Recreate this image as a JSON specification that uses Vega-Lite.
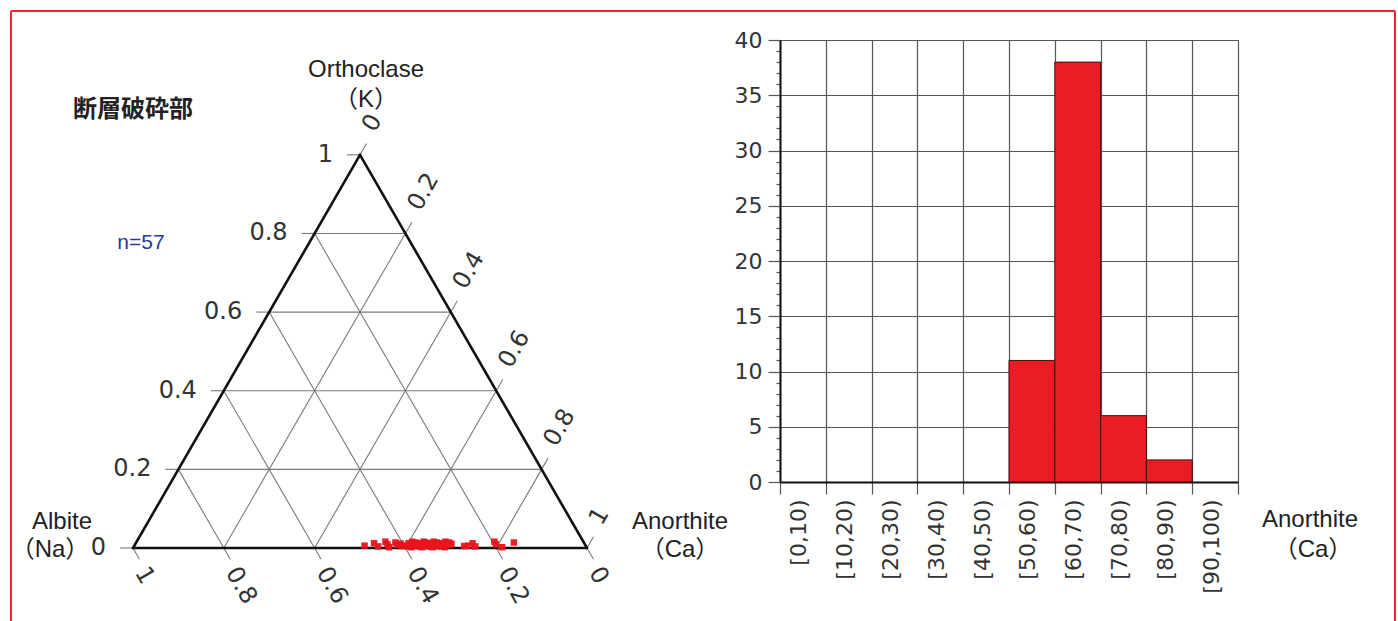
{
  "$schema": "https://vega.github.io/schema/vega-lite/v6.json",
  "padding": {"left": 10, "top": 10, "right": 0, "bottom": 0},
  "background": "white",
  "config": {"view": {"stroke": null}, "font": "DejaVu Sans"},
  "datasets": {
    "frame": [
      {"x": -0.268722, "y": 1.182819, "x2": -0.268722, "y2": -0.160793},
      {"x": -0.268722, "y": 1.182819, "x2": 2.779736, "y2": 1.182819},
      {"x": 2.779736, "y": 1.182819, "x2": 2.779736, "y2": -0.160793}
    ],
    "grid": [
      {"x": 0.1, "y": 0.173205, "x2": 0.9, "y2": 0.173205},
      {"x": 0.2, "y": 0.34641, "x2": 0.8, "y2": 0.34641},
      {"x": 0.3, "y": 0.519615, "x2": 0.7, "y2": 0.519615},
      {"x": 0.4, "y": 0.69282, "x2": 0.6, "y2": 0.69282},
      {"x": 0.2, "y": 0, "x2": 0.6, "y2": 0.69282},
      {"x": 0.4, "y": 0, "x2": 0.7, "y2": 0.519615},
      {"x": 0.6, "y": 0, "x2": 0.8, "y2": 0.34641},
      {"x": 0.8, "y": 0, "x2": 0.9, "y2": 0.173205},
      {"x": 0.8, "y": 0, "x2": 0.4, "y2": 0.69282},
      {"x": 0.6, "y": 0, "x2": 0.3, "y2": 0.519615},
      {"x": 0.4, "y": 0, "x2": 0.2, "y2": 0.34641},
      {"x": 0.2, "y": 0, "x2": 0.1, "y2": 0.173205},
      {"x": -0.028634, "y": 0, "x2": 0, "y2": 0},
      {"x": 0.071366, "y": 0.173205, "x2": 0.1, "y2": 0.173205},
      {"x": 0.171366, "y": 0.34641, "x2": 0.2, "y2": 0.34641},
      {"x": 0.271366, "y": 0.519615, "x2": 0.3, "y2": 0.519615},
      {"x": 0.371366, "y": 0.69282, "x2": 0.4, "y2": 0.69282},
      {"x": 0.471366, "y": 0.866025, "x2": 0.5, "y2": 0.866025},
      {"x": 0.5, "y": 0.866025, "x2": 0.514317, "y2": 0.890822},
      {"x": 0.6, "y": 0.69282, "x2": 0.614317, "y2": 0.717617},
      {"x": 0.7, "y": 0.519615, "x2": 0.714317, "y2": 0.544412},
      {"x": 0.8, "y": 0.34641, "x2": 0.814317, "y2": 0.371207},
      {"x": 0.9, "y": 0.173205, "x2": 0.914317, "y2": 0.198002},
      {"x": 1, "y": 0, "x2": 1.014317, "y2": 0.024797},
      {"x": 0, "y": 0, "x2": 0.014317, "y2": -0.024797},
      {"x": 0.2, "y": 0, "x2": 0.214317, "y2": -0.024797},
      {"x": 0.4, "y": 0, "x2": 0.414317, "y2": -0.024797},
      {"x": 0.6, "y": 0, "x2": 0.614317, "y2": -0.024797},
      {"x": 0.8, "y": 0, "x2": 0.814317, "y2": -0.024797},
      {"x": 1, "y": 0, "x2": 1.014317, "y2": -0.024797}
    ],
    "edges": [
      {"x": 0, "y": 0, "x2": 1, "y2": 0},
      {"x": 0, "y": 0, "x2": 0.5, "y2": 0.866025},
      {"x": 1, "y": 0, "x2": 0.5, "y2": 0.866025}
    ],
    "points": [
      {"an": 0.507, "or": 0.006, "x": 0.510, "y": 0.0052},
      {"an": 0.525, "or": 0.012, "x": 0.531, "y": 0.0104},
      {"an": 0.538, "or": 0.004, "x": 0.540, "y": 0.0035},
      {"an": 0.548, "or": 0.016, "x": 0.556, "y": 0.0139},
      {"an": 0.556, "or": 0.009, "x": 0.5605, "y": 0.0078},
      {"an": 0.563, "or": 0.002, "x": 0.564, "y": 0.0017},
      {"an": 0.571, "or": 0.014, "x": 0.578, "y": 0.0121},
      {"an": 0.578, "or": 0.008, "x": 0.582, "y": 0.0069},
      {"an": 0.584, "or": 0.011, "x": 0.5895, "y": 0.0095},
      {"an": 0.591, "or": 0.005, "x": 0.5935, "y": 0.0043},
      {"an": 0.597, "or": 0.006, "x": 0.600, "y": 0.0052},
      {"an": 0.601, "or": 0.012, "x": 0.607, "y": 0.0104},
      {"an": 0.604, "or": 0.004, "x": 0.606, "y": 0.0035},
      {"an": 0.607, "or": 0.016, "x": 0.615, "y": 0.0139},
      {"an": 0.610, "or": 0.009, "x": 0.6145, "y": 0.0078},
      {"an": 0.612, "or": 0.002, "x": 0.613, "y": 0.0017},
      {"an": 0.615, "or": 0.014, "x": 0.622, "y": 0.0121},
      {"an": 0.618, "or": 0.008, "x": 0.622, "y": 0.0069},
      {"an": 0.620, "or": 0.011, "x": 0.6255, "y": 0.0095},
      {"an": 0.622, "or": 0.005, "x": 0.6245, "y": 0.0043},
      {"an": 0.625, "or": 0.006, "x": 0.628, "y": 0.0052},
      {"an": 0.627, "or": 0.012, "x": 0.633, "y": 0.0104},
      {"an": 0.630, "or": 0.004, "x": 0.632, "y": 0.0035},
      {"an": 0.632, "or": 0.016, "x": 0.640, "y": 0.0139},
      {"an": 0.634, "or": 0.009, "x": 0.6385, "y": 0.0078},
      {"an": 0.636, "or": 0.002, "x": 0.637, "y": 0.0017},
      {"an": 0.638, "or": 0.014, "x": 0.645, "y": 0.0121},
      {"an": 0.641, "or": 0.008, "x": 0.645, "y": 0.0069},
      {"an": 0.643, "or": 0.011, "x": 0.6485, "y": 0.0095},
      {"an": 0.645, "or": 0.005, "x": 0.6475, "y": 0.0043},
      {"an": 0.647, "or": 0.006, "x": 0.650, "y": 0.0052},
      {"an": 0.649, "or": 0.012, "x": 0.655, "y": 0.0104},
      {"an": 0.652, "or": 0.004, "x": 0.654, "y": 0.0035},
      {"an": 0.654, "or": 0.016, "x": 0.662, "y": 0.0139},
      {"an": 0.657, "or": 0.009, "x": 0.6615, "y": 0.0078},
      {"an": 0.659, "or": 0.002, "x": 0.660, "y": 0.0017},
      {"an": 0.662, "or": 0.014, "x": 0.669, "y": 0.0121},
      {"an": 0.664, "or": 0.008, "x": 0.668, "y": 0.0069},
      {"an": 0.667, "or": 0.011, "x": 0.6725, "y": 0.0095},
      {"an": 0.669, "or": 0.005, "x": 0.6715, "y": 0.0043},
      {"an": 0.672, "or": 0.006, "x": 0.675, "y": 0.0052},
      {"an": 0.675, "or": 0.012, "x": 0.681, "y": 0.0104},
      {"an": 0.677, "or": 0.004, "x": 0.679, "y": 0.0035},
      {"an": 0.680, "or": 0.016, "x": 0.688, "y": 0.0139},
      {"an": 0.683, "or": 0.009, "x": 0.6875, "y": 0.0078},
      {"an": 0.686, "or": 0.002, "x": 0.687, "y": 0.0017},
      {"an": 0.689, "or": 0.014, "x": 0.696, "y": 0.0121},
      {"an": 0.692, "or": 0.008, "x": 0.696, "y": 0.0069},
      {"an": 0.696, "or": 0.011, "x": 0.7015, "y": 0.0095},
      {"an": 0.727, "or": 0.005, "x": 0.7295, "y": 0.0043},
      {"an": 0.735, "or": 0.006, "x": 0.738, "y": 0.0052},
      {"an": 0.742, "or": 0.012, "x": 0.748, "y": 0.0104},
      {"an": 0.752, "or": 0.004, "x": 0.754, "y": 0.0035},
      {"an": 0.788, "or": 0.016, "x": 0.796, "y": 0.0139},
      {"an": 0.795, "or": 0.009, "x": 0.7995, "y": 0.0078},
      {"an": 0.812, "or": 0.002, "x": 0.813, "y": 0.0017},
      {"an": 0.832, "or": 0.014, "x": 0.839, "y": 0.0121}
    ],
    "leftLabels": [
      {"label": "0", "x": 0, "y": 0},
      {"label": "0.2", "x": 0.1, "y": 0.173205},
      {"label": "0.4", "x": 0.2, "y": 0.34641},
      {"label": "0.6", "x": 0.3, "y": 0.519615},
      {"label": "0.8", "x": 0.4, "y": 0.69282},
      {"label": "1", "x": 0.5, "y": 0.866025}
    ],
    "rightLabels": [
      {"label": "0", "x": 0.5, "y": 0.866025},
      {"label": "0.2", "x": 0.6, "y": 0.69282},
      {"label": "0.4", "x": 0.7, "y": 0.519615},
      {"label": "0.6", "x": 0.8, "y": 0.34641},
      {"label": "0.8", "x": 0.9, "y": 0.173205},
      {"label": "1", "x": 1, "y": 0}
    ],
    "bottomLabels": [
      {"label": "1", "x": 0, "y": 0},
      {"label": "0.8", "x": 0.2, "y": 0},
      {"label": "0.6", "x": 0.4, "y": 0},
      {"label": "0.4", "x": 0.6, "y": 0},
      {"label": "0.2", "x": 0.8, "y": 0},
      {"label": "0", "x": 1, "y": 0}
    ],
    "titles": [
      {"text": "Orthoclase", "x": 0.513216, "y": 1.052863},
      {"text": "（K）", "x": 0.513216, "y": 0.986784},
      {"text": "Albite", "x": -0.156388, "y": 0.057269},
      {"text": "（Na）", "x": -0.182819, "y": -0.004405},
      {"text": "Anorthite", "x": 1.204846, "y": 0.057269},
      {"text": "（Ca）", "x": 1.204846, "y": -0.004405},
      {"text": "Anorthite", "x": 2.592511, "y": 0.061674},
      {"text": "（Ca）", "x": 2.599119, "y": -0.004405}
    ],
    "place": [{"text": "断層破砕部", "x": 0, "y": 0.964758}],
    "count": [{"text": "n=57", "x": 0.017621, "y": 0.671806}],
    "hist": [
      {"bin": "[0,10)", "count": 0},
      {"bin": "[10,20)", "count": 0},
      {"bin": "[20,30)", "count": 0},
      {"bin": "[30,40)", "count": 0},
      {"bin": "[40,50)", "count": 0},
      {"bin": "[50,60)", "count": 11},
      {"bin": "[60,70)", "count": 38},
      {"bin": "[70,80)", "count": 6},
      {"bin": "[80,90)", "count": 2},
      {"bin": "[90,100)", "count": 0}
    ]
  },
  "hconcat": [
    {
      "width": 700,
      "height": 581,
      "encoding": {
        "x": {"field": "x", "type": "quantitative", "scale": {"domain": [-0.268722, 1.273128], "nice": false, "zero": false}, "axis": null},
        "y": {"field": "y", "type": "quantitative", "scale": {"domain": [-0.160793, 1.118943], "nice": false, "zero": false}, "axis": null}
      },
      "layer": [
        {
          "data": {"name": "frame"},
          "mark": {"type": "rule", "color": "#ee2a2a", "strokeWidth": 2},
          "encoding": {"x2": {"field": "x2"}, "y2": {"field": "y2"}}
        },
        {
          "data": {"name": "grid"},
          "mark": {"type": "rule", "color": "#7a7a7a", "strokeWidth": 1.1},
          "encoding": {"x2": {"field": "x2"}, "y2": {"field": "y2"}}
        },
        {
          "data": {"name": "edges"},
          "mark": {"type": "rule", "color": "#111111", "strokeWidth": 2.6, "strokeCap": "round"},
          "encoding": {"x2": {"field": "x2"}, "y2": {"field": "y2"}}
        },
        {
          "data": {"name": "points"},
          "mark": {"type": "point", "shape": "square", "filled": true, "size": 42, "color": "#e8141c", "opacity": 0.95}
        },
        {
          "data": {"name": "leftLabels"},
          "mark": {"type": "text", "align": "right", "baseline": "middle", "dx": -27, "font": "DejaVu Sans", "fontSize": 24, "color": "#333333"},
          "encoding": {"text": {"field": "label"}}
        },
        {
          "data": {"name": "rightLabels"},
          "mark": {"type": "text", "align": "left", "baseline": "middle", "angle": 300, "dx": 26, "dy": -5, "font": "DejaVu Sans", "fontSize": 24, "color": "#333333"},
          "encoding": {"text": {"field": "label"}}
        },
        {
          "data": {"name": "bottomLabels"},
          "mark": {"type": "text", "align": "left", "baseline": "middle", "angle": 60, "dx": 22, "dy": 4, "font": "DejaVu Sans", "fontSize": 24, "color": "#333333"},
          "encoding": {"text": {"field": "label"}}
        },
        {
          "data": {"name": "titles"},
          "mark": {"type": "text", "align": "center", "baseline": "middle", "font": "Liberation Sans, Noto Sans CJK JP", "fontSize": 24, "color": "#222222"},
          "encoding": {"text": {"field": "text"}}
        },
        {
          "data": {"name": "place"},
          "mark": {"type": "text", "align": "center", "baseline": "middle", "font": "Noto Sans CJK JP", "fontSize": 24, "fontWeight": "bold", "color": "#222222"},
          "encoding": {"text": {"field": "text"}}
        },
        {
          "data": {"name": "count"},
          "mark": {"type": "text", "align": "center", "baseline": "middle", "font": "Liberation Sans", "fontSize": 21, "color": "#2b3990"},
          "encoding": {"text": {"field": "text"}}
        }
      ]
    },
    {
      "width": 458,
      "height": 442,
      "data": {"name": "hist"},
      "mark": {"type": "bar", "fill": "#ea1d25", "stroke": "#4a0808", "strokeWidth": 1, "width": {"band": 1}},
      "encoding": {
        "x": {
          "field": "bin", "type": "nominal", "sort": null,
          "scale": {"paddingInner": 0, "paddingOuter": 0},
          "axis": {
            "title": null, "labelAngle": -90, "labelFont": "DejaVu Sans", "labelFontSize": 22, "labelColor": "#333333",
            "labelPadding": 5, "labelOffset": -4, "labelOverlap": false, "labelBound": false,
            "tickBand": "extent", "tickSize": 12, "tickColor": "#555555", "tickWidth": 1.2,
            "domainColor": "#111111", "domainWidth": 2,
            "grid": true, "gridColor": "#555555", "gridWidth": 1.2
          }
        },
        "y": {
          "field": "count", "type": "quantitative",
          "scale": {"domain": [0, 40], "nice": false},
          "axis": {
            "title": null,
            "values": [0,1,2,3,4,5,6,7,8,9,10,11,12,13,14,15,16,17,18,19,20,21,22,23,24,25,26,27,28,29,30,31,32,33,34,35,36,37,38,39,40],
            "labelExpr": "datum.value % 5 === 0 ? datum.label : ''",
            "labelFont": "DejaVu Sans", "labelFontSize": 22, "labelColor": "#333333", "labelPadding": 6,
            "tickSize": {"condition": {"test": "datum.value % 5 === 0", "value": 12}, "value": 4},
            "tickColor": "#555555", "tickWidth": 1.2,
            "domainColor": "#111111", "domainWidth": 2,
            "grid": true, "gridColor": "#555555", "gridWidth": 1.2,
            "gridOpacity": {"condition": {"test": "datum.value % 5 === 0", "value": 1}, "value": 0}
          }
        },
        "strokeOpacity": {"condition": {"test": "datum.count > 0", "value": 1}, "value": 0}
      }
    }
  ],
  "spacing": 69,
  "bounds": "flush"
}
